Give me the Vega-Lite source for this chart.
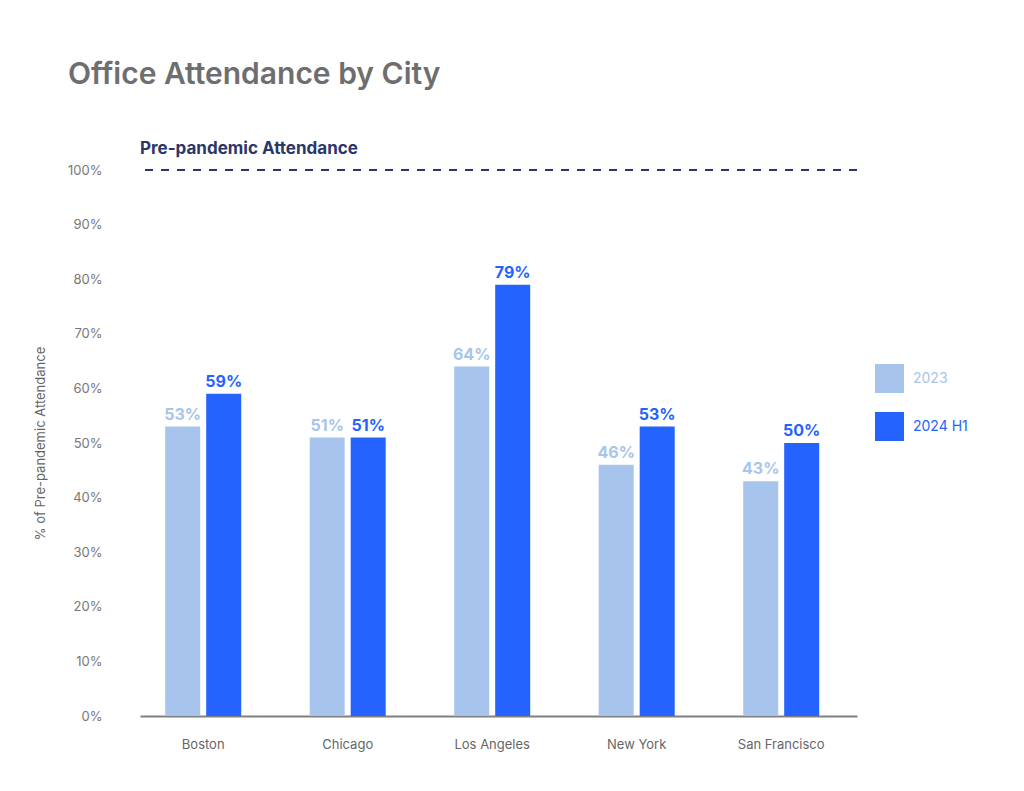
{
  "$schema": "https://vega.github.io/schema/vega-lite/v6.json",
  "width": 717,
  "height": 546,
  "autosize": "none",
  "padding": {"left": 140, "top": 170, "right": 167, "bottom": 75},
  "background": "white",
  "config": {
    "font": "Inter",
    "view": {"stroke": null}
  },
  "title": {
    "text": "Office Attendance by City",
    "anchor": "start",
    "frame": "group",
    "dx": -72,
    "offset": 50,
    "fontSize": 30,
    "fontWeight": 600,
    "color": "#6e6e6e"
  },
  "datasets": {
    "attendance": [
      {"city": "Boston", "period": "2023", "share": 0.53},
      {"city": "Boston", "period": "2024 H1", "share": 0.59},
      {"city": "Chicago", "period": "2023", "share": 0.51},
      {"city": "Chicago", "period": "2024 H1", "share": 0.51},
      {"city": "Los Angeles", "period": "2023", "share": 0.64},
      {"city": "Los Angeles", "period": "2024 H1", "share": 0.79},
      {"city": "New York", "period": "2023", "share": 0.46},
      {"city": "New York", "period": "2024 H1", "share": 0.53},
      {"city": "San Francisco", "period": "2023", "share": 0.43},
      {"city": "San Francisco", "period": "2024 H1", "share": 0.50}
    ],
    "baseline": [
      {"label": "Pre-pandemic Attendance", "share": 1}
    ]
  },
  "layer": [
    {
      "data": {"name": "attendance"},
      "mark": {"type": "bar"},
      "encoding": {
        "x": {
          "field": "city",
          "type": "nominal",
          "sort": null,
          "scale": {"paddingInner": 0.474, "paddingOuter": 0.218, "align": 0.4},
          "axis": {
            "title": null,
            "labelAngle": 0,
            "ticks": false,
            "domain": true,
            "domainColor": "#808080",
            "domainWidth": 2,
            "labelPadding": 22,
            "labelFontSize": 13,
            "labelColor": "#666666"
          }
        },
        "xOffset": {
          "field": "period",
          "type": "nominal",
          "scale": {"paddingInner": 0.146}
        },
        "y": {
          "field": "share",
          "type": "quantitative",
          "scale": {"domain": [0, 1]},
          "axis": {
            "title": "% of Pre-pandemic Attendance",
            "format": ".0%",
            "values": [0, 0.1, 0.2, 0.3, 0.4, 0.5, 0.6, 0.7, 0.8, 0.9, 1],
            "grid": false,
            "domain": false,
            "ticks": false,
            "labelPadding": 38,
            "labelFontSize": 13,
            "labelColor": "#777777",
            "titleFontSize": 13,
            "titleFontWeight": "normal",
            "titleColor": "#666666",
            "titlePadding": 20
          }
        },
        "color": {
          "field": "period",
          "type": "nominal",
          "scale": {"domain": ["2023", "2024 H1"], "range": ["#a7c5ec", "#2563fe"]},
          "legend": {
            "title": null,
            "orient": "none",
            "legendX": 735,
            "legendY": 194,
            "direction": "vertical",
            "symbolType": "square",
            "symbolSize": 841,
            "symbolStrokeWidth": 0,
            "symbolOpacity": 1,
            "labelFontSize": 14,
            "labelOffset": 9,
            "rowPadding": 19,
            "encode": {
              "labels": {
                "update": {
                  "fill": {"signal": "datum.value === '2023' ? '#a7c5ec' : '#2563fe'"}
                }
              }
            }
          }
        }
      }
    },
    {
      "data": {"name": "attendance"},
      "mark": {"type": "text", "baseline": "alphabetic", "dy": -7, "fontSize": 16, "fontWeight": "bold"},
      "encoding": {
        "x": {"field": "city", "type": "nominal", "sort": null},
        "xOffset": {"field": "period", "type": "nominal"},
        "y": {"field": "share", "type": "quantitative"},
        "text": {"field": "share", "type": "quantitative", "format": ".0%"},
        "color": {"field": "period", "type": "nominal"}
      }
    },
    {
      "data": {"name": "baseline"},
      "mark": {"type": "rule", "color": "#2b3669", "strokeWidth": 2, "strokeDash": [8, 8]},
      "encoding": {
        "y": {"field": "share", "type": "quantitative"}
      }
    },
    {
      "data": {"name": "baseline"},
      "mark": {"type": "text", "align": "left", "baseline": "alphabetic", "dy": -16, "fontSize": 17, "fontWeight": "bold", "color": "#2b3669"},
      "encoding": {
        "x": {"value": 0},
        "y": {"field": "share", "type": "quantitative"},
        "text": {"field": "label", "type": "nominal"}
      }
    }
  ]
}
